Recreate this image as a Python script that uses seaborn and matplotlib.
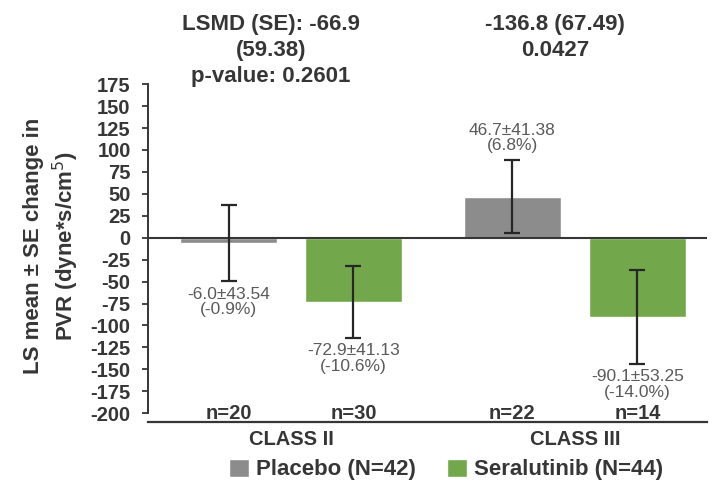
import pandas as pd
import matplotlib.pyplot as plt
import matplotlib.transforms as mtransforms
import seaborn as sns

# data
classes = ['CLASS II', 'CLASS II', 'CLASS III', 'CLASS III']
groups = ['Placebo (N=42)', 'Seralutinib (N=44)', 'Placebo (N=42)', 'Seralutinib (N=44)']
ls_mean = [-6.0, -72.9, 46.7, -90.1]
se = [43.54, 41.13, 41.38, 53.25]
pct = ['-0.9%', '-10.6%', '6.8%', '-14.0%']
n_obs = [20, 30, 22, 14]
class_order = ['CLASS II', 'CLASS III']
lsmd_text = ['LSMD (SE): -66.9\n(59.38)\np-value: 0.2601', '-136.8 (67.49)\n0.0427']
yticks = list(range(-200, 176, 25))

df = pd.DataFrame({'cls': classes, 'grp': groups, 'mean': ls_mean, 'se': se,
                   'pct': pct, 'n': n_obs})

sns.set_style('white')
plt.rcParams['font.family'] = ['Liberation Sans', 'DejaVu Sans']
dark = '#363636'

fig = plt.figure(figsize=(7.15, 4.84), dpi=100)
ax = fig.add_axes([0.207, 0.128, 0.782, 0.700])

sns.barplot(data=df, x='cls', y='mean', hue='grp', order=class_order,
            palette=['#8c8c8c', '#72a84b'], width=0.88, gap=0.223,
            errorbar=None, saturation=1, ax=ax, zorder=2)

ax.axhline(0, color=dark, lw=1.5, zorder=3)

# error bars and value labels, positioned from the drawn bars
for cont, grp in zip(ax.containers, df['grp'].unique()):
    sub = df[df['grp'] == grp].set_index('cls').loc[class_order]
    for bar, (_, row) in zip(cont, sub.iterrows()):
        xc = bar.get_x() + bar.get_width() / 2
        ax.errorbar(xc, row['mean'], yerr=row['se'], fmt='none', ecolor='#262626',
                    elinewidth=1.6, capsize=6, capthick=1.6, zorder=4)
        label = f"{row['mean']:.1f}\u00b1{row['se']:.2f}\n({row['pct']})"
        if row['mean'] >= 0:
            ax.annotate(label, (xc, row['mean'] + row['se']), xytext=(0, 5),
                        textcoords='offset points', ha='center', va='bottom',
                        fontsize=12.5, color='#5a5a5a', linespacing=1.05)
        else:
            ax.annotate(label, (xc, row['mean'] - row['se']), xytext=(0, -4),
                        textcoords='offset points', ha='center', va='top',
                        fontsize=12.5, color='#5a5a5a', linespacing=1.05)
        ax.text(xc, -200, f"n={row['n']}", ha='center', va='center',
                fontsize=14.5, fontweight='bold', color=dark)

# LSMD annotations above the plot
trans = mtransforms.blended_transform_factory(ax.transData, fig.transFigure)
for i, txt in enumerate(lsmd_text):
    ax.annotate(txt, (i, 0.972), xycoords=trans, xytext=(-20, 0),
                textcoords='offset pixels', ha='center', va='top',
                fontsize=16, fontweight='bold', color=dark, linespacing=1.32)

ax.set_ylim(-210, 176)
ax.set_xlim(-0.504, 1.466)
ax.set_yticks(yticks)
ax.set_yticklabels([str(t) for t in yticks], fontweight='bold', fontsize=14.5, color=dark)
ax.tick_params(axis='y', length=4.5, width=1.3, color=dark, pad=8, left=True)
ax.tick_params(axis='x', length=0, pad=6, labelsize=14.5, labelcolor=dark)
for lab in ax.get_xticklabels():
    lab.set_fontweight('bold')
ax.set_xlabel('')
ax.set_ylabel('LS mean \u00b1 SE change in\nPVR (dyne*s/cm$^5$)', fontsize=16,
              fontweight='bold', color=dark, linespacing=1.3)
ax.yaxis.set_label_coords(-0.12, 0.52)

for s in ['top', 'right']:
    ax.spines[s].set_visible(False)
ax.spines['left'].set_bounds(-200, 175)
ax.spines['left'].set_color(dark)
ax.spines['left'].set_linewidth(1.4)
ax.spines['bottom'].set_color(dark)
ax.spines['bottom'].set_linewidth(1.6)

sns.move_legend(ax, loc='center', bbox_to_anchor=(446 / 715, 0.03),
                bbox_transform=fig.transFigure, ncol=2, frameon=False, title=None,
                fontsize=16, handlelength=0.9, handleheight=0.9,
                handletextpad=0.3, columnspacing=1.4)
for t in ax.get_legend().get_texts():
    t.set_fontweight('bold')
    t.set_color(dark)

fig.savefig('out.png', dpi=100)
